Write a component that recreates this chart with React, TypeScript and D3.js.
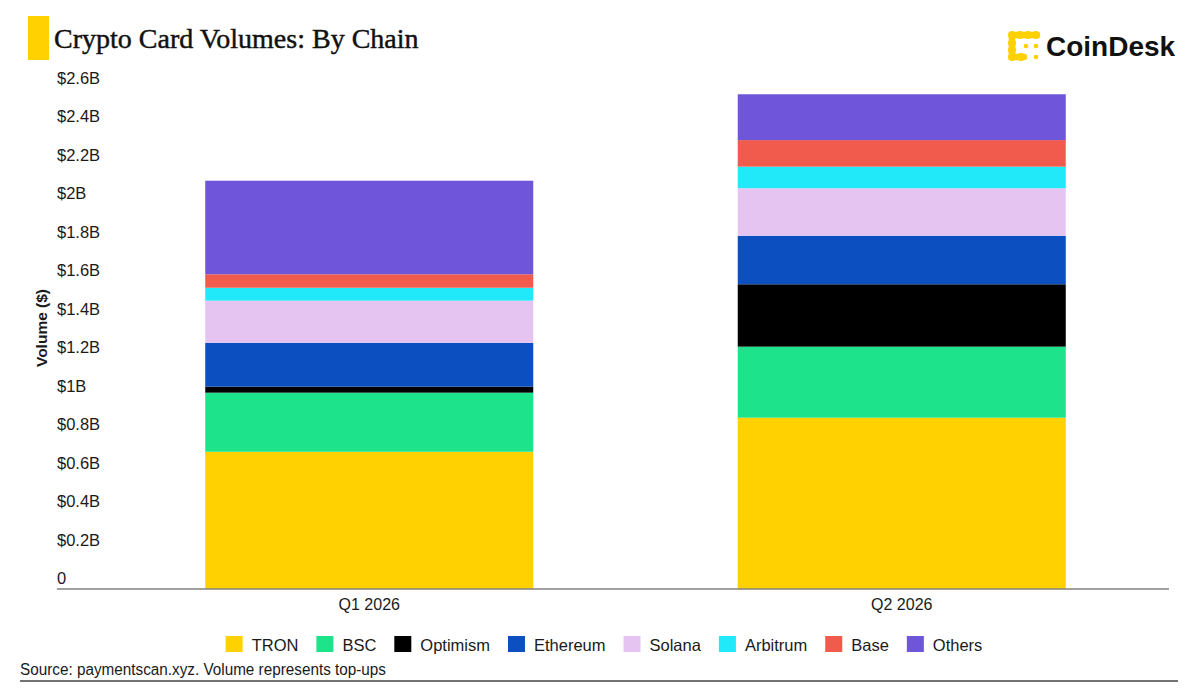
import React from 'react'
import * as d3 from 'd3'

const quarters = ['Q1 2026', 'Q2 2026']
const chains = ['TRON', 'BSC', 'Optimism', 'Ethereum', 'Solana', 'Arbitrum', 'Base', 'Others']
const colors = ['#FFD100', '#1DE38B', '#000000', '#0B4FC1', '#E6C4F2', '#22E9FA', '#F05B4D', '#6E55DA']

// volumes in $B, one value per quarter
const tron = [0.713, 0.890]
const bsc = [0.307, 0.369]
const optimism = [0.031, 0.324]
const ethereum = [0.228, 0.252]
const solana = [0.219, 0.247]
const arbitrum = [0.067, 0.112]
const base = [0.070, 0.138]
const others = [0.486, 0.238]

const yTicks = [0, 0.2, 0.4, 0.6, 0.8, 1, 1.2, 1.4, 1.6, 1.8, 2, 2.2, 2.4, 2.6]

const W = 1199
const H = 690
const SANS = '"Liberation Sans", Arial, sans-serif'
const INK = '#1a1a1a'

const seriesValues = [tron, bsc, optimism, ethereum, solana, arbitrum, base, others]
const rows = quarters.map((q, i) => {
  const r: any = { quarter: q }
  chains.forEach((c, k) => { r[c] = seriesValues[k][i] })
  return r
})

let ctx: CanvasRenderingContext2D | null = null
function textWidth(s: string, font: string) {
  if (!ctx) ctx = document.createElement('canvas').getContext('2d')
  if (!ctx) return s.length * 8
  ctx.font = font
  return ctx.measureText(s).width
}

const fmt = (v: number) => (v === 0 ? '0' : `$${d3.format('~g')(+v.toFixed(1))}B`)

export default function App() {
  const x = d3.scaleBand().domain(quarters).range([103, 1168]).paddingInner(0.384).paddingOuter(0.192)
  const y = d3.scaleLinear().domain([0, 2.6]).range([589, 88.5])
  const stacked = d3.stack<any>().keys(chains)(rows)

  // legend layout
  const legendFont = `16.5px ${SANS}`
  const sq = 17
  const items: { name: string; color: string; x: number }[] = []
  let cursor = 0
  chains.forEach((c, i) => {
    items.push({ name: c, color: colors[i], x: cursor })
    cursor += sq + 9 + textWidth(c, legendFont) + 18
  })
  const legendW = cursor - 18
  const legendX0 = 604 - legendW / 2

  return (
    <svg width={W} height={H} viewBox={`0 0 ${W} ${H}`}
      style={{ position: 'absolute', left: 0, top: 0, background: '#fff' }}>
      <rect x={0} y={0} width={W} height={H} fill="#fff" />

      {/* title */}
      <rect x={28} y={16} width={21} height={44} fill="#FFD100" />
      <text x={54} y={48} fontFamily='"Liberation Serif", "Times New Roman", serif' fontSize={28}
        fill="#111" stroke="#111" strokeWidth={0.45}>
        Crypto Card Volumes: By Chain
      </text>

      {/* logo */}
      <g fill="#FFD100" stroke="#FFD100">
        <path d="M1037,35 L1012,35 L1012,57 L1024,57" fill="none" strokeWidth={6.5} strokeLinecap="round" strokeLinejoin="round" />
        {[1012, 1020, 1028, 1036].map(cx => <circle key={'t' + cx} cx={cx} cy={35} r={4} stroke="none" />)}
        {[43, 50, 57].map(cy => <circle key={'l' + cy} cx={1012} cy={cy} r={4} stroke="none" />)}
        <circle cx={1021} cy={57} r={4} stroke="none" />
        <circle cx={1026} cy={46} r={2.3} stroke="none" />
        <circle cx={1036} cy={46} r={2.3} stroke="none" />
        <circle cx={1036} cy={57} r={2.3} stroke="none" />
      </g>
      <text x={1046} y={56} fontFamily={SANS} fontWeight="bold" fontSize={28} fill="#111">CoinDesk</text>

      {/* y axis */}
      <text transform="translate(47,328) rotate(-90)" textAnchor="middle" fontFamily={SANS}
        fontWeight="bold" fontSize={15.5} fill={INK}>Volume ($)</text>
      {yTicks.map(t => (
        <text key={t} x={57} y={y(t) - 5} fontFamily={SANS} fontSize={16.5} fill={INK}>{fmt(t)}</text>
      ))}

      {/* bars */}
      {stacked.map((s, k) => (
        <g key={s.key} fill={colors[k]}>
          {s.map((d, i) => (
            <rect key={i} x={x(d.data.quarter)} y={y(d[1])} width={x.bandwidth()} height={y(d[0]) - y(d[1])} />
          ))}
        </g>
      ))}

      {/* x axis */}
      <line x1={57} x2={1169} y1={y(0)} y2={y(0)} stroke="#808080" strokeWidth={1.5} />
      {quarters.map(q => (
        <text key={q} x={(x(q) || 0) + x.bandwidth() / 2} y={609.5} textAnchor="middle"
          fontFamily={SANS} fontSize={16} fill={INK}>{q}</text>
      ))}

      {/* legend */}
      {items.map(it => (
        <g key={it.name} transform={`translate(${legendX0 + it.x},0)`}>
          <rect x={0} y={636} width={sq} height={16} fill={it.color} />
          <text x={sq + 9} y={651} fontFamily={SANS} fontSize={16.5} fill={INK}>{it.name}</text>
        </g>
      ))}

      {/* footer */}
      <text x={20} y={675} fontFamily={SANS} fontSize={16} fill={INK} textLength={366} lengthAdjust="spacingAndGlyphs">
        Source: paymentscan.xyz. Volume represents top-ups
      </text>
      <line x1={20} x2={1178} y1={681} y2={681} stroke="#444" strokeWidth={1.5} />
    </svg>
  )
}
